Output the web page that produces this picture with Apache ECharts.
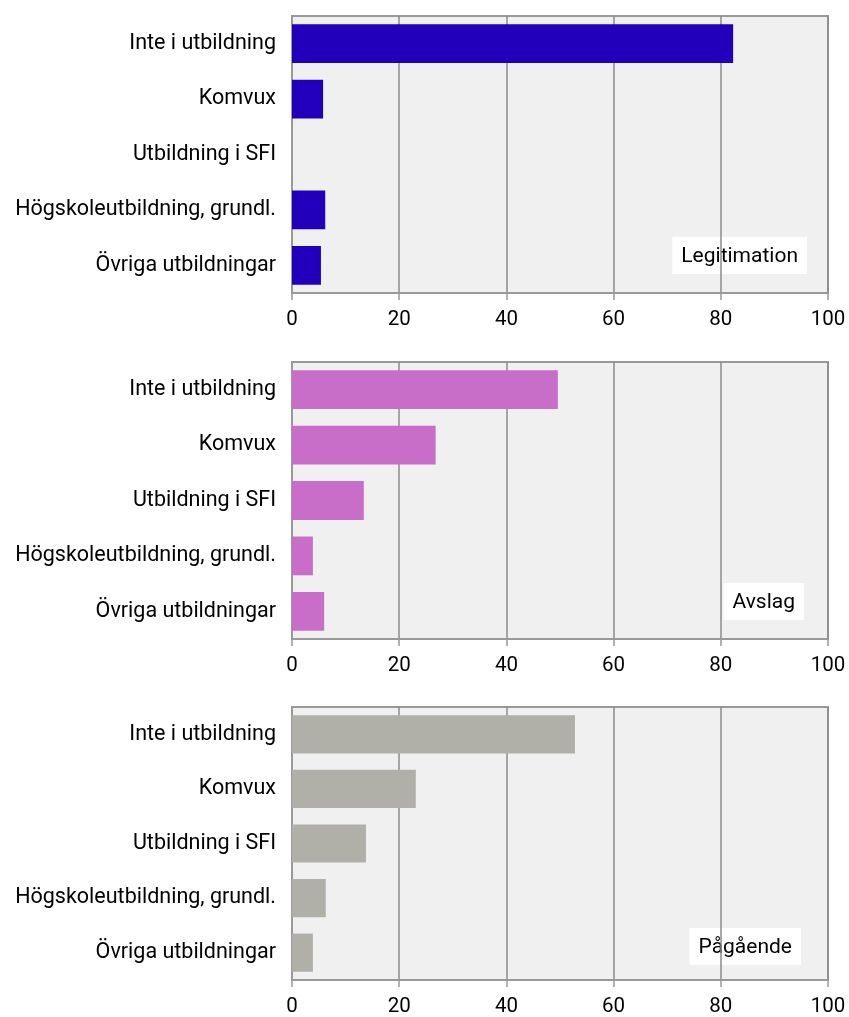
<!DOCTYPE html>
<html>
<head>
<meta charset="utf-8">
<script src="https://cdn.jsdelivr.net/npm/echarts@6/dist/echarts.min.js"></script>
<style>
html,body{margin:0;padding:0;background:#fff;}
#c{width:849px;height:1017px;}
</style>
</head>
<body>
<div id="c"></div>
<script>
const categories = ['Inte i utbildning', 'Komvux', 'Utbildning i SFI', 'Högskoleutbildning, grundl.', 'Övriga utbildningar'];
const legitimation = [82.3, 5.8, 0, 6.2, 5.4];
const avslag = [49.6, 26.8, 13.4, 3.9, 6.0];
const pagaende = [52.8, 23.1, 13.8, 6.3, 3.9];
const panelNames = ['Legitimation', 'Avslag', 'Pågående'];
const colors = ['#2200BB', '#C86EC8', '#B0B0A8'];
const seriesData = [legitimation, avslag, pagaende];

const font = 'Roboto, "Noto Sans", sans-serif';
const gridTops = [16, 362, 707];
const gridH = 277;
const boxRight = [42, 45, 48];

const chart = echarts.init(document.getElementById('c'), null, {renderer: 'canvas'});
const grids = [], xAxes = [], yAxes = [], series = [], graphics = [];
for (let i = 0; i < 3; i++) {
  grids.push({left: 292, right: 21, top: gridTops[i], height: gridH, show: true,
    backgroundColor: '#F0F0F0', borderColor: '#999', borderWidth: 2, containLabel: false});
  xAxes.push({type: 'value', gridIndex: i, min: 0, max: 100, interval: 20,
    axisLine: {show: true, lineStyle: {color: '#999', width: 2}},
    axisTick: {show: true, length: 7, lineStyle: {color: '#999', width: 1.5}},
    splitLine: {show: true, lineStyle: {color: '#8c8c8c', width: 1.5}},
    axisLabel: {fontSize: 20.5, color: '#000', fontFamily: font, margin: 16}});
  yAxes.push({type: 'category', gridIndex: i, data: categories, inverse: true,
    axisLine: {show: true, lineStyle: {color: '#999', width: 2}},
    axisTick: {show: false},
    axisLabel: {fontSize: 21.5, color: '#000', fontFamily: font, margin: 16, padding: [3, 0, 0, 0]}});
  series.push({type: 'bar', xAxisIndex: i, yAxisIndex: i, data: seriesData[i],
    barWidth: '70%', itemStyle: {color: colors[i]}, silent: true});
  graphics.push({type: 'text', right: boxRight[i], top: gridTops[i] + gridH - 20 - 36,
    style: {text: panelNames[i], fontSize: 21, fontFamily: font, fill: '#000',
      backgroundColor: '#fff', padding: [9, 9, 7, 9]}});
}
chart.setOption({
  animation: false,
  grid: grids, xAxis: xAxes, yAxis: yAxes, series: series, graphic: graphics
});
</script>
</body>
</html>
